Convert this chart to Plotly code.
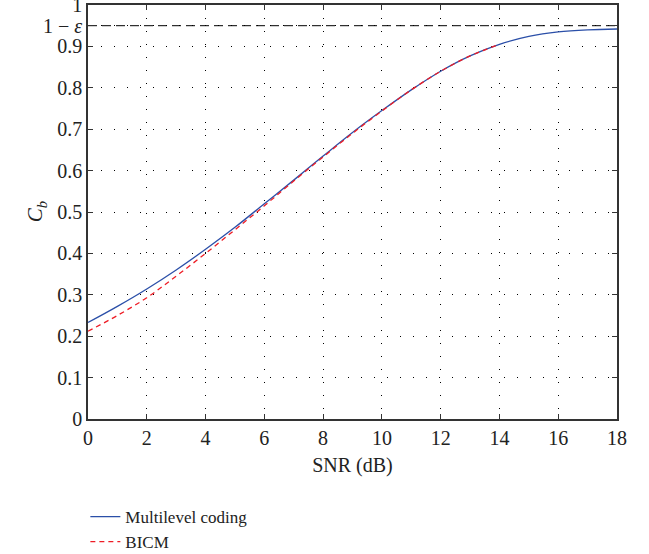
import plotly.graph_objects as go

snr_ml = [0, 1, 2, 3, 4, 5, 6, 7, 8, 9, 10, 11, 12, 13, 14, 15, 16, 17, 18]
cb_ml = [0.233, 0.272, 0.314, 0.36, 0.41, 0.463, 0.52, 0.577, 0.635, 0.692,
         0.745, 0.795, 0.84, 0.877, 0.905, 0.924, 0.935, 0.940, 0.942]
snr_bicm = [0, 1, 2, 3, 4, 5, 6, 7, 8, 9, 10, 11, 12, 13, 14]
cb_bicm = [0.212, 0.25, 0.293, 0.345, 0.4, 0.457, 0.515, 0.575, 0.633, 0.69,
           0.744, 0.795, 0.84, 0.877, 0.905]
eps_level = 0.95
xticks = [0, 2, 4, 6, 8, 10, 12, 14, 16, 18]
yticks = [0, 0.1, 0.2, 0.3, 0.4, 0.5, 0.6, 0.7, 0.8, 0.9, 0.95, 1]
ytext = ["0", "0.1", "0.2", "0.3", "0.4", "0.5", "0.6", "0.7", "0.8", "0.9", "1 \u2212 <i>\u03b5</i>", "1"]

font = "Liberation Serif"
fs = 20

fig = go.Figure()
fig.add_trace(go.Scatter(x=[0, 18], y=[eps_level, eps_level], mode="lines",
                         line=dict(color="black", width=1, dash="9px,5px"),
                         showlegend=False, hoverinfo="skip"))
fig.add_trace(go.Scatter(x=snr_ml, y=cb_ml, mode="lines", name="Multilevel coding",
                         line=dict(color="#2b4fa8", width=1.3, shape="spline")))
fig.add_trace(go.Scatter(x=snr_bicm, y=cb_bicm, mode="lines", name="BICM",
                         line=dict(color="#ee1c25", width=1.3, dash="5px,4px", shape="spline")))

axis_common = dict(showline=True, linecolor="#333", linewidth=1.5, mirror="ticks",
                   ticks="inside", ticklen=5, tickcolor="#333",
                   showgrid=True, gridcolor="black", gridwidth=1, griddash="1px,12px",
                   zeroline=False, automargin=False, ticklabeloverflow="allow",
                   tickfont=dict(family=font, size=fs, color="#222"))

fig.update_xaxes(range=[0, 18], tickvals=xticks,
                 title=dict(text="SNR (dB)", font=dict(family=font, size=fs, color="#222"), standoff=10),
                 **axis_common)
fig.update_yaxes(range=[0, 1], tickvals=yticks, ticktext=ytext, **axis_common)

fig.add_annotation(text="<i>C<sub>b</sub></i>", xref="paper", yref="paper",
                   x=-0.098, y=0.5, textangle=-90, showarrow=False,
                   xanchor="center", yanchor="middle",
                   font=dict(family=font, size=21, color="#222"))

fig.update_layout(
    width=649, height=554,
    margin=dict(l=88, r=32, t=5, b=135),
    plot_bgcolor="white", paper_bgcolor="white",
    font=dict(family=font, size=fs, color="#222"),
    legend=dict(x=-0.005, xanchor="left", yref="container", y=0.0993, yanchor="top",
                bgcolor="rgba(0,0,0,0)",
                font=dict(family=font, size=17, color="#222"), tracegroupgap=0),
)

fig.write_html("out.html", config={"displayModeBar": False},
               post_script="document.body.style.margin='0';document.body.style.overflow='hidden';")
